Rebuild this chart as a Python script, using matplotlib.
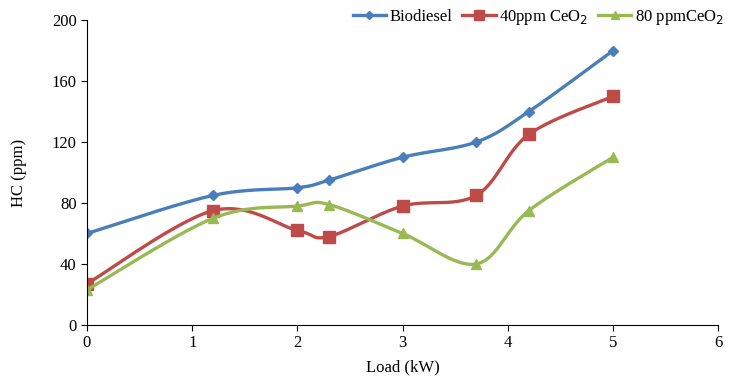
import numpy as np
import matplotlib.pyplot as plt

# Datos
carga = [0, 1.2, 2, 2.3, 3, 3.7, 4.2, 5]
biodiesel = [60, 85, 90, 95, 110, 120, 140, 180]
ceo2_40 = [27, 75, 62, 58, 78, 85, 125, 150]
ceo2_80 = [23, 70, 78, 79, 60, 40, 75, 110]

etiquetas = ['Biodiesel', '40ppm CeO$_2$', '80 ppmCeO$_2$']
colores = ['#4A7EBB', '#BE4B48', '#98B954']
marcadores = ['D', 's', '^']
tamanos = [5, 8, 7]


# Curva suavizada tipo Excel (Bezier con puntos de control 1/6)
def suavizar(x, y, n=30):
    p = np.column_stack([x, y]).astype(float)
    p = np.vstack([p[0], p, p[-1]])
    xs, ys = [], []
    for i in range(1, len(p) - 2):
        p0, p1, p2, p3 = p[i - 1], p[i], p[i + 1], p[i + 2]
        b1 = p1 + (p2 - p0) / 6
        b2 = p2 - (p3 - p1) / 6
        t = np.linspace(0, 1, n)[:, None]
        c = (1 - t) ** 3 * p1 + 3 * (1 - t) ** 2 * t * b1 + 3 * (1 - t) * t ** 2 * b2 + t ** 3 * p2
        xs.extend(c[:, 0])
        ys.extend(c[:, 1])
    return xs, ys


plt.rcParams['font.family'] = ['Liberation Serif', 'DejaVu Serif']
fig = plt.figure(figsize=(7.34, 3.80), dpi=100)
ax = fig.add_axes([0.1185, 0.145, 0.86, 0.802])

for serie, lab, col, m, ms in zip([biodiesel, ceo2_40, ceo2_80], etiquetas, colores, marcadores, tamanos):
    xs, ys = suavizar(carga, serie)
    ax.plot(xs, ys, color=col, lw=2.4)
    ax.plot(carga, serie, linestyle='none', marker=m, color=col, ms=ms)
    ax.plot([], [], color=col, lw=2.4, marker=m, ms=ms - 1, label=lab)

ax.set_xlim(0, 6)
ax.set_ylim(0, 200)
ax.set_xticks(range(0, 7))
ax.set_yticks(range(0, 201, 40))
ax.spines['top'].set_visible(False)
ax.spines['right'].set_visible(False)
ax.tick_params(direction='out', length=4, labelsize=12)
ax.set_xlabel('Load (kW)', fontsize=12, labelpad=6)
ax.set_ylabel('HC (ppm)', fontsize=12, labelpad=18)

ax.legend(loc='center', bbox_to_anchor=(0.715, 1.01), ncol=3, frameon=False,
          fontsize=12, handlelength=2.0, handletextpad=0.2, columnspacing=0.6)

fig.savefig('out.png', dpi=100)
